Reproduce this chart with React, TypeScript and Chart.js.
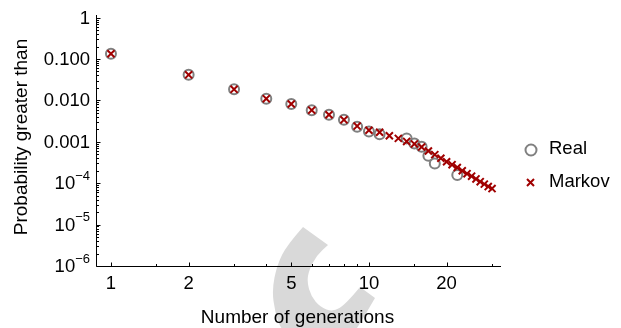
import React, { useEffect, useRef } from "react";
import { Chart, registerables } from "chart.js";

Chart.register(...registerables);

const realGenerations = [1, 2, 3, 4, 5, 6, 7, 8, 9, 10, 11, 14, 15, 16, 17, 18, 22];
const realProbability = [
  0.134, 0.0415, 0.0185, 0.011, 0.0082, 0.0058, 0.0045, 0.0034, 0.0023, 0.00178, 0.00153,
  0.00121, 0.00091, 0.00076, 0.00046, 0.0003, 0.000157,
];

const markovGenerations = [
  1, 2, 3, 4, 5, 6, 7, 8, 9, 10, 11, 12, 13, 14, 15, 16, 17, 18, 19, 20, 21, 22, 23, 24, 25, 26, 27, 28, 29, 30,
];
const markovProbability = [
  0.134, 0.0415, 0.0185, 0.011, 0.0082, 0.0058, 0.0045, 0.0034, 0.0024, 0.0019, 0.0017, 0.0014, 0.00121,
  0.00102, 0.00089, 0.00075, 0.0006, 0.00049, 0.0004, 0.00033, 0.00028, 0.00024, 0.0002, 0.00017, 0.000148,
  0.000127, 0.000109, 0.000095, 0.000083, 0.000074,
];

const xMajorTicks = [1, 2, 5, 10, 20];
const xMajorLabels = ["1", "2", "5", "10", "20"];
const xMinorTicks = [1.5, 3, 4, 6, 7, 8, 9, 15, 30];

const yMajorTicks = [1, 0.1, 0.01, 0.001, 1e-4, 1e-5, 1e-6];
const yLabelBase = ["1", "0.100", "0.010", "0.001", "10", "10", "10"];
const yLabelExp = ["", "", "", "", "\u22124", "\u22125", "\u22126"];

const seriesNames = ["Real", "Markov"];

const FONT = "'Liberation Sans', Arial, sans-serif";
const REAL_COLOR = "#808080";
const MARKOV_COLOR = "#a00000";

// outline of the light-grey background watermark
const watermarkOuter: [number, number][] = [
  [303, 227], [287, 245], [277, 265], [272, 290], [275, 312], [281, 330], [300, 345], [345, 345], [358, 327], [375, 298],
];
const watermarkInner: [number, number][] = [
  [360, 287], [346, 304], [333, 312], [320, 307], [311, 296], [307, 282], [309, 270], [317, 255], [328, 245],
];

function smoothPath(ctx: CanvasRenderingContext2D, pts: [number, number][], first: boolean) {
  if (first) ctx.moveTo(pts[0][0], pts[0][1]);
  else ctx.lineTo(pts[0][0], pts[0][1]);
  for (let i = 1; i < pts.length - 1; i++) {
    const mx = (pts[i][0] + pts[i + 1][0]) / 2;
    const my = (pts[i][1] + pts[i + 1][1]) / 2;
    ctx.quadraticCurveTo(pts[i][0], pts[i][1], mx, my);
  }
  const last = pts[pts.length - 1];
  ctx.lineTo(last[0], last[1]);
}

const decorPlugin = {
  id: "decor",
  beforeDraw(chart: any) {
    const ctx = chart.ctx as CanvasRenderingContext2D;
    ctx.save();
    ctx.fillStyle = "#ffffff";
    ctx.fillRect(0, 0, chart.width, chart.height);
    ctx.beginPath();
    smoothPath(ctx, watermarkOuter, true);
    smoothPath(ctx, watermarkInner, false);
    ctx.closePath();
    ctx.fillStyle = "#d9d9d9";
    ctx.fill();
    ctx.restore();
  },
  afterDraw(chart: any) {
    const ctx = chart.ctx as CanvasRenderingContext2D;
    const xs = chart.scales.x;
    const ys = chart.scales.y;
    const area = chart.chartArea;
    ctx.save();
    ctx.strokeStyle = "#000";
    ctx.fillStyle = "#000";
    ctx.lineWidth = 1;

    const left = Math.round(area.left) + 0.5;
    const bottom = Math.round(area.bottom) + 0.5;

    ctx.beginPath();
    ctx.moveTo(left, area.top);
    ctx.lineTo(left, bottom);
    ctx.lineTo(area.right, bottom);
    ctx.stroke();

    ctx.beginPath();
    xMajorTicks.forEach((v) => {
      const px = Math.round(xs.getPixelForValue(v)) + 0.5;
      ctx.moveTo(px, bottom);
      ctx.lineTo(px, bottom - 4);
    });
    xMinorTicks.forEach((v) => {
      const px = Math.round(xs.getPixelForValue(v)) + 0.5;
      ctx.moveTo(px, bottom);
      ctx.lineTo(px, bottom - 2.5);
    });
    yMajorTicks.forEach((v) => {
      const py = Math.round(ys.getPixelForValue(v)) + 0.5;
      ctx.moveTo(left, py);
      ctx.lineTo(left + 4, py);
    });
    for (let e = -6; e < 0; e++) {
      for (let m = 2; m <= 9; m++) {
        const v = m * Math.pow(10, e);
        const py = Math.round(ys.getPixelForValue(v)) + 0.5;
        ctx.moveTo(left, py);
        ctx.lineTo(left + 2.5, py);
      }
    }
    ctx.stroke();

    ctx.font = `18.5px ${FONT}`;
    ctx.textAlign = "center";
    ctx.textBaseline = "middle";
    xMajorTicks.forEach((v, i) => {
      ctx.fillText(xMajorLabels[i], xs.getPixelForValue(v), 284);
    });

    const labelRight = area.left - 6;
    yMajorTicks.forEach((v, i) => {
      const py = ys.getPixelForValue(v);
      const exp = yLabelExp[i];
      let supW = 0;
      if (exp) {
        ctx.font = `13px ${FONT}`;
        supW = ctx.measureText(exp).width;
        ctx.textAlign = "left";
        ctx.textBaseline = "middle";
        ctx.fillText(exp, labelRight - supW, py - 7);
      }
      ctx.font = `18.5px ${FONT}`;
      ctx.textAlign = "right";
      ctx.textBaseline = "middle";
      ctx.fillText(yLabelBase[i], labelRight - supW, py + 1);
    });

    ctx.font = `19px ${FONT}`;
    ctx.textAlign = "center";
    ctx.textBaseline = "middle";
    ctx.fillText("Number of generations", (area.left + area.right) / 2 - 1, 318);
    ctx.save();
    ctx.translate(22, 137);
    ctx.rotate(-Math.PI / 2);
    ctx.fillText("Probability greater than", 0, 0);
    ctx.restore();

    ctx.lineWidth = 2;
    ctx.strokeStyle = REAL_COLOR;
    ctx.beginPath();
    ctx.arc(531, 150, 5.5, 0, Math.PI * 2);
    ctx.stroke();
    ctx.strokeStyle = MARKOV_COLOR;
    ctx.beginPath();
    ctx.moveTo(527, 179);
    ctx.lineTo(534, 186);
    ctx.moveTo(534, 179);
    ctx.lineTo(527, 186);
    ctx.stroke();
    ctx.fillStyle = "#000";
    ctx.textAlign = "left";
    ctx.textBaseline = "middle";
    ctx.font = `18.5px ${FONT}`;
    ctx.fillText(seriesNames[0], 549, 149);
    ctx.fillText(seriesNames[1], 549, 182);
    ctx.restore();
  },
};

export default function App() {
  const ref = useRef<HTMLCanvasElement | null>(null);
  useEffect(() => {
    if (!ref.current) return;
    const chart = new Chart(ref.current, {
      type: "scatter",
      data: {
        datasets: [
          {
            label: seriesNames[0],
            data: realGenerations.map((g, i) => ({ x: g, y: realProbability[i] })),
            pointStyle: "circle",
            pointRadius: 5,
            pointBorderWidth: 2,
            pointBorderColor: REAL_COLOR,
            pointBackgroundColor: "rgba(255,255,255,0)",
            borderColor: REAL_COLOR,
            backgroundColor: "rgba(255,255,255,0)",
            showLine: false,
            order: 1,
          },
          {
            label: seriesNames[1],
            data: markovGenerations.map((g, i) => ({ x: g, y: markovProbability[i] })),
            pointStyle: "crossRot",
            pointRadius: 5,
            pointBorderWidth: 2,
            pointBorderColor: MARKOV_COLOR,
            borderColor: MARKOV_COLOR,
            backgroundColor: MARKOV_COLOR,
            showLine: false,
            order: 0,
          },
        ],
      },
      options: {
        responsive: false,
        animation: false,
        events: [],
        layout: { padding: { left: 96, top: 15, right: 120, bottom: 62 } },
        plugins: { legend: { display: false }, tooltip: { enabled: false } },
        scales: {
          x: { type: "logarithmic", min: 0.875, max: 32.5, display: false },
          y: { type: "logarithmic", min: 1e-6, max: 1.156, display: false },
        },
      },
      plugins: [decorPlugin],
    });
    return () => chart.destroy();
  }, []);
  return (
    <div style={{ position: "fixed", left: 0, top: 0, width: 621, height: 328, background: "#fff" }}>
      <canvas ref={ref} width={621} height={328} style={{ display: "block" }} />
    </div>
  );
}
